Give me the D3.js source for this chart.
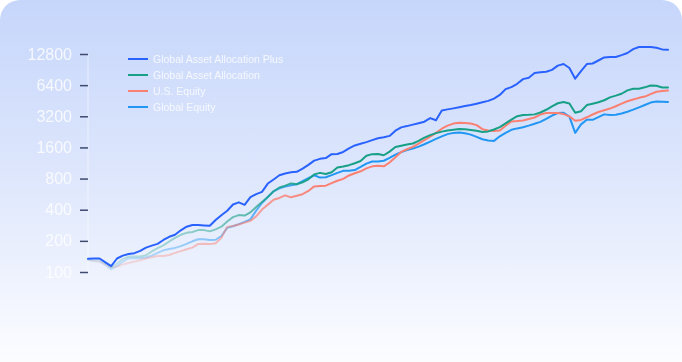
<!DOCTYPE html>
<html>
<head>
<meta charset="utf-8">
<script src="https://cdn.jsdelivr.net/npm/d3@7"></script>
<style>
  body { margin: 0; background: #ffffff; }
  svg { display: block; font-family: "Liberation Sans", Arial, sans-serif; }
</style>
</head>
<body>
<svg id="chart" width="682" height="362"></svg>
<script>
// series names shown in the legend
const seriesNames = ["Global Asset Allocation Plus", "Global Asset Allocation", "U.S. Equity", "Global Equity"];
const seriesColors = ["#2962ff", "#17a086", "#fa8072", "#2196f3"];

// growth of 100 (101 equally spaced periods)
const gaaPlus = [134,135,135,124,114,135,144,149,152,160,
  172,180,187,204,219,229,253,274,285,284,
  282,280,318,354,391,449,471,445,529,566,
  595,716,784,861,896,921,931,998,1086,1192,
  1241,1263,1378,1384,1447,1565,1673,1734,1801,1883,
  1964,2004,2068,2322,2499,2572,2659,2744,2837,3075,
  2927,3641,3732,3816,3911,4017,4117,4238,4372,4511,
  4748,5145,5855,6121,6589,7316,7531,8381,8513,8609,
  8981,9885,10243,9370,7382,8744,10243,10359,11074,11866,
  11972,11972,12490,13090,14250,14960,14960,14960,14698,14183,
  14090];

const gaa = [131,131,131,121,110,121,134,141,141,141,
  145,158,170,181,197,214,229,239,244,254,
  254,247,258,274,308,339,355,351,377,425,
  474,530,603,656,684,719,706,737,786,878,
  908,886,921,1025,1045,1078,1125,1182,1327,1378,
  1381,1345,1457,1614,1662,1707,1745,1850,1991,2105,
  2201,2275,2332,2369,2406,2403,2358,2316,2255,2286,
  2385,2516,2738,2973,3207,3294,3309,3339,3483,3699,
  3999,4276,4392,4247,3460,3578,4107,4238,4372,4572,
  4878,5065,5284,5700,5907,5907,6094,6343,6315,6081,
  6081];

const usEquity = [131,128,126,118,111,113,118,122,126,130,
  135,139,143,143,146,153,159,166,172,187,
  188,186,190,214,273,278,288,300,312,345,
  401,448,499,520,551,527,545,565,607,672,
  678,683,724,762,795,857,900,941,1004,1050,
  1064,1050,1145,1286,1447,1537,1622,1742,1883,2031,
  2215,2427,2601,2720,2775,2750,2726,2630,2403,2332,
  2301,2332,2589,2856,2875,2914,3007,3115,3324,3437,
  3437,3437,3361,3193,2895,2953,3130,3331,3522,3658,
  3799,3999,4238,4470,4643,4824,4964,5248,5524,5611,
  5687];

const globalEquity = [131,128,126,117,106,114,126,136,136,136,
  138,144,153,162,167,171,178,187,198,207,
  207,204,205,223,267,277,290,305,323,392,
  465,530,603,643,669,688,706,757,809,861,
  818,824,863,908,950,950,967,1036,1115,1169,
  1169,1190,1266,1363,1441,1510,1558,1629,1718,1821,
  1934,2045,2152,2211,2225,2191,2128,2022,1921,1870,
  1850,2049,2215,2369,2444,2504,2601,2707,2825,3020,
  3250,3444,3460,3172,2215,2672,2960,2960,3136,3339,
  3301,3309,3406,3545,3707,3902,4117,4343,4441,4421,
  4392];

const yTicks = [100, 200, 400, 800, 1600, 3200, 6400, 12800];

const allSeries = [gaaPlus, gaa, usEquity, globalEquity];

const width = 682, height = 362;
const svg = d3.select("#chart");
const defs = svg.append("defs");

// card background: light blue fading to white
const bg = defs.append("linearGradient").attr("id", "bg")
  .attr("x1", 0).attr("y1", 0).attr("x2", 0).attr("y2", 1);
bg.append("stop").attr("offset", "0%").attr("stop-color", "#c6d6fb");
bg.append("stop").attr("offset", "45%").attr("stop-color", "#dde6fc");
bg.append("stop").attr("offset", "100%").attr("stop-color", "#ffffff");

svg.append("rect")
  .attr("width", width).attr("height", height + 20)
  .attr("rx", 20).attr("ry", 20)
  .attr("fill", "url(#bg)");

// soft glow used on the white labels
const glow = defs.append("filter").attr("id", "soft");
glow.append("feGaussianBlur").attr("stdDeviation", 0.45);

const x = d3.scaleLinear().domain([0, gaaPlus.length - 1]).range([88, 668]);
const y = d3.scaleLog().base(2).domain([100, 12800]).range([272, 54]);

// tick marks fade towards the bottom
const tickGrad = defs.append("linearGradient").attr("id", "tickGrad")
  .attr("gradientUnits", "userSpaceOnUse")
  .attr("x1", 0).attr("y1", 54).attr("x2", 0).attr("y2", 272);
tickGrad.append("stop").attr("offset", "0%").attr("stop-color", "#3e4a6e");
tickGrad.append("stop").attr("offset", "100%").attr("stop-color", "#a3abbe");

const yAxis = svg.append("g")
  .attr("transform", "translate(88,0)")
  .call(d3.axisLeft(y).tickValues(yTicks).tickFormat(d3.format("d")).tickSize(8).tickPadding(8));

yAxis.select(".domain")
  .attr("stroke", "#ffffff").attr("stroke-opacity", 0.5).attr("d", "M0,54V272");
yAxis.selectAll(".tick line")
  .attr("stroke", "url(#tickGrad)").attr("stroke-width", 1.5);
yAxis.selectAll(".tick text")
  .attr("fill", "#ffffff").attr("fill-opacity", 0.8)
  .attr("filter", "url(#soft)")
  .attr("font-size", 16)
  .attr("font-family", "'Liberation Sans', Arial, sans-serif");

// lines other than the first fade in from the left
seriesColors.forEach((c, i) => {
  const g = defs.append("linearGradient").attr("id", "fade" + i)
    .attr("gradientUnits", "userSpaceOnUse")
    .attr("x1", 88).attr("y1", 0).attr("x2", 320).attr("y2", 0);
  g.append("stop").attr("offset", "0%").attr("stop-color", c).attr("stop-opacity", i === 0 ? 1 : 0.12);
  g.append("stop").attr("offset", "55%").attr("stop-color", c).attr("stop-opacity", i === 0 ? 1 : 0.5);
  g.append("stop").attr("offset", "100%").attr("stop-color", c).attr("stop-opacity", 1);
});

const line = d3.line()
  .x((d, i) => x(i))
  .y(d => y(d));

const drawOrder = [3, 2, 1, 0];
svg.append("g").selectAll("path")
  .data(drawOrder)
  .join("path")
  .attr("d", i => line(allSeries[i]))
  .attr("fill", "none")
  .attr("stroke", i => `url(#fade${i})`)
  .attr("stroke-width", 2)
  .attr("stroke-linejoin", "round")
  .attr("stroke-linecap", "round");

// legend
const legend = svg.append("g").attr("transform", "translate(128,59)");
const item = legend.selectAll("g")
  .data(seriesNames)
  .join("g")
  .attr("transform", (d, i) => `translate(0,${i * 16})`);

item.append("line")
  .attr("x1", 0).attr("x2", 20)
  .attr("stroke", (d, i) => seriesColors[i])
  .attr("stroke-width", 2);

item.append("text")
  .attr("x", 25).attr("dy", "0.35em")
  .attr("fill", "#ffffff").attr("fill-opacity", 0.8)
  .attr("filter", "url(#soft)")
  .attr("font-size", 10.5)
  .text(d => d);
</script>
</body>
</html>
